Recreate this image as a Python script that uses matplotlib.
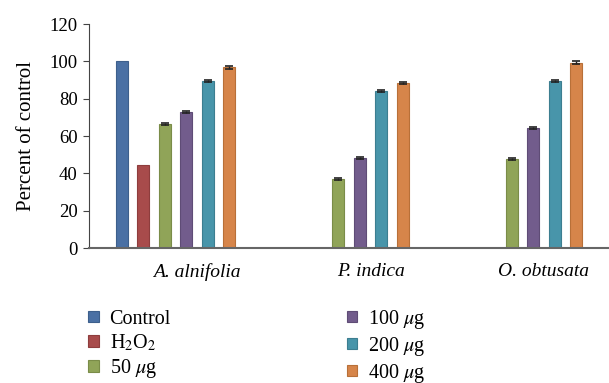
import matplotlib.pyplot as plt
import numpy as np

# data
species = ["A. alnifolia", "P. indica", "O. obtusata"]
treatments = ["Control", "H$_2$O$_2$", "50 $\\mu$g", "100 $\\mu$g", "200 $\\mu$g", "400 $\\mu$g"]
control = [100, 0, 0]
h2o2 = [44.7, 0, 0]
dose_50 = [66.4, 37.0, 47.8]
dose_100 = [72.8, 48.4, 64.4]
dose_200 = [89.7, 84.0, 89.7]
dose_400 = [96.8, 88.6, 99.4]
errors = [0.0, 0.0, 0.6, 0.6, 0.6, 0.6]

colors = ["#4a70a4", "#a84b4b", "#90a458", "#725c8c", "#4895aa", "#d6854a"]
edges = ["#3d5f8c", "#8e3d3d", "#7a8c48", "#5f4c76", "#3c7e90", "#b87038"]

plt.rcParams["font.family"] = ["Liberation Serif", "DejaVu Serif"]
plt.rcParams["mathtext.fontset"] = "stix"

fig = plt.figure(figsize=(6.09, 3.83), dpi=100)
ax = fig.add_axes([0.146, 0.352, 0.854, 0.585])

series = [control, h2o2, dose_50, dose_100, dose_200, dose_400]
x = np.arange(len(species))
step = 0.124
width = 0.069
for i, vals in enumerate(series):
    pos = x + (i - 2.5) * step
    vals = np.array(vals, dtype=float)
    ax.bar(pos, vals, width, color=colors[i], edgecolor=edges[i], linewidth=0.8,
           label=treatments[i])
    if errors[i] > 0:
        mask = vals > 0
        ax.errorbar(pos[mask], vals[mask], yerr=errors[i], fmt="none",
                    ecolor="#222222", elinewidth=1.0, capsize=3, capthick=1.2)

ax.set_xlim(-0.5, 2.5)
ax.set_ylim(0, 120)
ax.set_yticks(range(0, 121, 20))
ax.set_xticks(x + 0.125)
ax.set_xticklabels(species, fontstyle="italic", fontsize=14)
ax.tick_params(axis="x", length=0, pad=11)
ax.tick_params(axis="y", labelsize=13.5, length=4, color="#444444", pad=4)
ax.set_ylabel("Percent of control", fontsize=15, labelpad=10)

for side in ["top", "right"]:
    ax.spines[side].set_visible(False)
ax.spines["left"].set_color("#444444")
ax.spines["bottom"].set_color("#666666")
ax.spines["bottom"].set_linewidth(1.5)

fig.legend(loc="upper left", bbox_to_anchor=(0.132, 0.218), ncol=2, frameon=False,
           fontsize=14.5, handlelength=0.5, handleheight=0.5, handletextpad=0.55,
           columnspacing=8.75, labelspacing=0.2, borderaxespad=0)

fig.savefig("out.png", dpi=100)
